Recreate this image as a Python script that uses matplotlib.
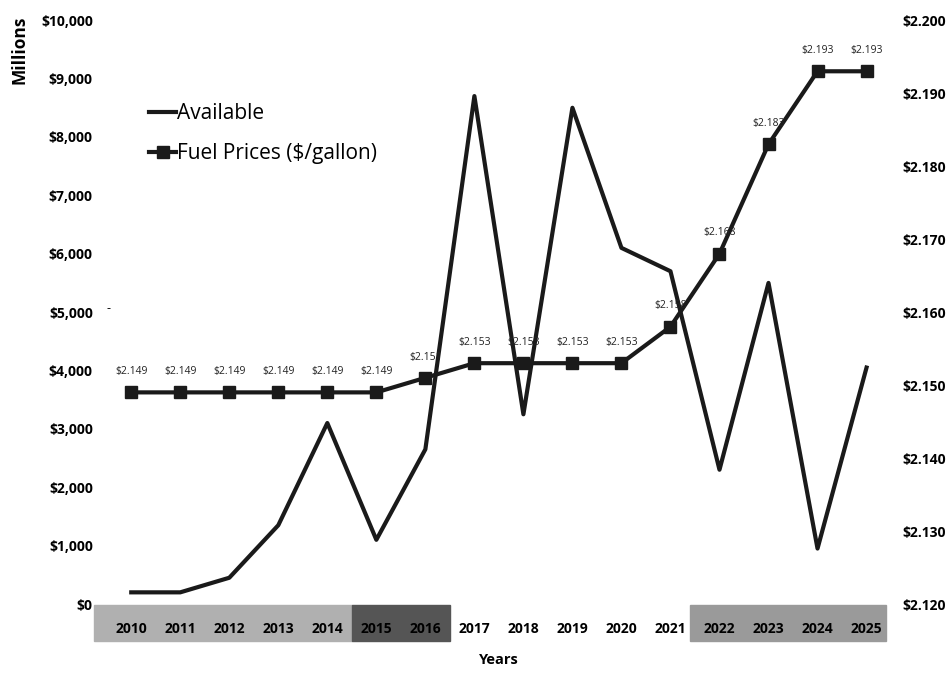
import numpy as np
import matplotlib
matplotlib.use("Agg")
import matplotlib.pyplot as plt
from matplotlib.patches import Rectangle

years = [str(y) for y in range(2010, 2026)]
available = [200, 200, 450, 1350, 3100, 1100, 2650, 8700, 3250, 8500, 6100, 5700, 2300, 5500, 950, 4050]
fuel = [2.149, 2.149, 2.149, 2.149, 2.149, 2.149, 2.151, 2.153, 2.153, 2.153, 2.153,
        2.158, 2.168, 2.183, 2.193, 2.193]

plt.rcParams['font.family'] = ['Open Sans', 'DejaVu Sans']

fig = plt.figure(figsize=(9.53, 6.73), dpi=100)
ax = fig.add_axes([0.112, 0.1025, 0.823, 0.8675])
ax2 = ax.twinx()
x = np.arange(len(years))

l1, = ax.plot(x, available, color='#1a1a1a', lw=3, label='Available', zorder=3)
l2, = ax2.plot(x, fuel, color='#1a1a1a', lw=3, marker='s', ms=9, label='Fuel Prices ($/gallon)')
for xi, v in zip(x, fuel):
    ax2.annotate(f"${v:.3f}", (xi, v), xytext=(0, 11), textcoords='offset points',
                 ha='center', va='bottom', fontsize=7.5, color='#222222')

ax.set_xlim(-0.5, len(years) - 0.5)
ax.set_ylim(0, 10000)
ax.set_yticks(np.arange(0, 10001, 1000))
ax.set_yticklabels([f"${v:,}" for v in range(0, 10001, 1000)])
ax2.set_ylim(2.12, 2.20)
ax2.set_yticks(np.arange(2.12, 2.2001, 0.01))
ax2.set_yticklabels([f"${v:.3f}" for v in np.arange(2.12, 2.2001, 0.01)])
ax.set_xticks(x)
ax.set_xticklabels(years)

for a in (ax, ax2):
    for s in a.spines.values():
        s.set_visible(False)
    a.tick_params(length=0, labelsize=10)
    for t in a.get_yticklabels() + a.get_xticklabels():
        t.set_fontweight('bold')
ax.tick_params(axis='y', pad=10)
ax2.tick_params(axis='y', pad=8)
ax.tick_params(axis='x', pad=13)

# shaded bands behind some year labels
bands = [(-0.75, 4.5, '#b0b0b0'), (4.5, 6.5, '#555555'), (11.4, 15.4, '#9a9a9a')]
for x0, x1, c in bands:
    ax.add_patch(Rectangle((x0, -0.064), x1 - x0, 0.062, transform=ax.get_xaxis_transform(),
                           color=c, clip_on=False, zorder=0))

ax.set_ylabel('Millions', fontweight='bold', fontsize=12.5)
ax.yaxis.set_label_coords(-0.1, 0.95)
ax.set_xlabel('Years', fontweight='bold', fontsize=10.5, labelpad=12)
ax.text(0.0, 0.5, '-', transform=ax.transAxes, fontsize=9)

ax.legend([l1, l2], ['Available', 'Fuel Prices ($/gallon)'], loc='upper left',
          bbox_to_anchor=(0.03, 0.89), frameon=False, fontsize=15, handlelength=1.3,
          handletextpad=0.05, labelspacing=0.9)

fig.savefig('out.png', dpi=100)
